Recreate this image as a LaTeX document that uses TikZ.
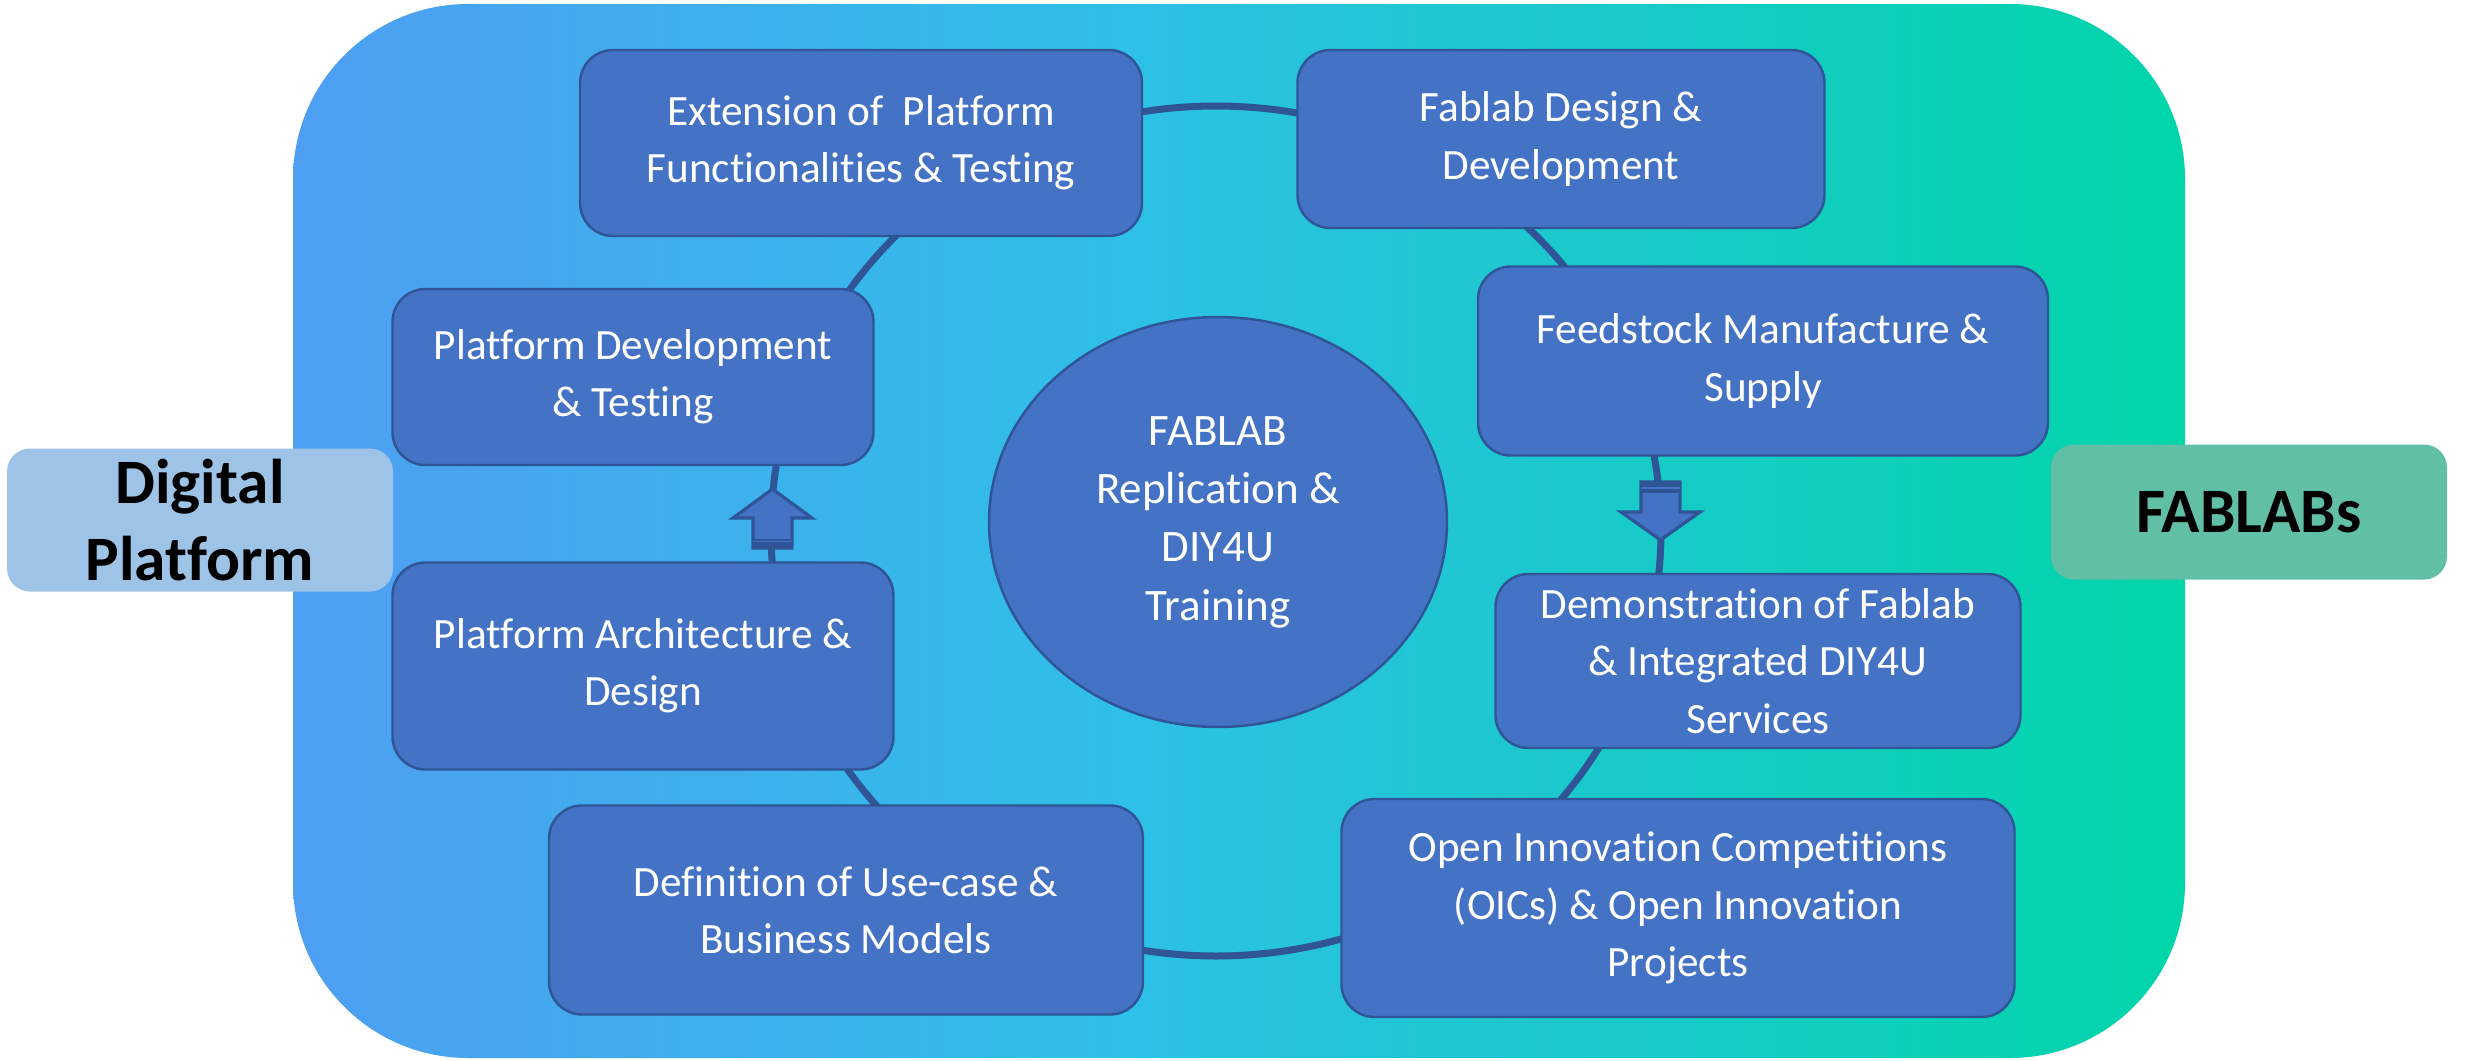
\documentclass[tikz,border=0pt]{standalone}
\usepackage{fontspec}
\setmainfont{Carlito}[Ligatures=NoCommon]
\usetikzlibrary{shapes.geometric}
\definecolor{bgleft}{HTML}{4E9EF2}
\definecolor{bgmid}{HTML}{2EC0E6}
\definecolor{bgright}{HTML}{00D5A9}
\definecolor{boxblue}{HTML}{4472C4}
\definecolor{edgeblue}{HTML}{2F5597}
\definecolor{platblue}{HTML}{9DC3E6}
\definecolor{labgreen}{HTML}{60BFA4}
\pgfdeclarehorizontalshading{bgfade}{100bp}{color(0bp)=(bgleft); color(25bp)=(bgleft);
  color(47bp)=(bgmid); color(75bp)=(bgright); color(100bp)=(bgright)}

\begin{document}
\begin{tikzpicture}[x=0.1mm,y=-0.1mm,
  stage/.style={rounded corners=3.3mm,draw=edgeblue,line width=0.7pt,fill=boxblue,
    text=white,align=center,font=\fontsize{12.3}{16.3}\selectfont,inner sep=0pt},
  hub/.style={ellipse,draw=edgeblue,line width=0.7pt,fill=boxblue,text=white,
    align=center,font=\fontsize{12.8}{16.6}\selectfont,inner sep=0pt,
    minimum width=45.8mm,minimum height=41mm},
  side/.style={rounded corners=2.3mm,align=center,inner sep=0pt,
    font=\fontsize{18}{21.9}\selectfont\bfseries},
  ring/.style={draw=edgeblue,line width=0.7mm},
  blk/.style={draw=edgeblue,line width=0.9pt,fill=boxblue,line join=miter}]

  \useasboundingbox (0,0) rectangle (2465,1061);
  \shade[shading=bgfade,rounded corners=17.5mm] (293,4) rectangle (2185,1058);

  % cycle behind the stages
  \draw[ring] (1216,531) ellipse [x radius=445,y radius=425];

  \node[stage,minimum width=56.2mm,minimum height=18.6mm] (ext) at (861,143)
    {Extension of~ Platform\\Functionalities \& Testing};
  \node[stage,minimum width=52.7mm,minimum height=17.8mm] (fdd) at (1561,139)
    {Fablab Design \&\\Development};
  \node[stage,minimum width=48.1mm,minimum height=17.6mm] (pdev) at (633,377)
    {Platform Development\\\& Testing};
  \node[stage,minimum width=57mm,minimum height=18.9mm] (feed) at (1763,361)
    {Feedstock Manufacture \&\\Supply};
  \node[stage,minimum width=50.1mm,minimum height=20.7mm] (parch) at (643,666)
    {Platform Architecture \&\\Design};
  \node[stage,minimum width=52.5mm,minimum height=17.4mm] (demo) at (1758,661)
    {Demonstration of Fablab\\\& Integrated DIY4U\\Services};
  \node[stage,minimum width=59.4mm,minimum height=20.9mm] (def) at (846,910)
    {Definition of Use-case \&\\Business Models};
  \node[stage,minimum width=67.3mm,minimum height=21.8mm] (oic) at (1678,908)
    {Open Innovation Competitions\\(OICs) \& Open Innovation\\Projects};

  \node[hub] (hub) at (1218,522) {FABLAB\\Replication \&\\DIY4U\\Training};

  \node[side,fill=platblue,minimum width=38.6mm,minimum height=14.3mm] (plat) at (200,520)
    {Digital\\Platform};
  \node[side,fill=labgreen,minimum width=39.6mm,minimum height=13.5mm] (labs) at (2249,512)
    {FABLABs};

  % block arrows
  \coordinate (uptail) at (772.5,548);
  \draw[blk] (uptail) ++(-19.5,0) -- ++(0,-30) -- ++(-20,0) -- ++(39.5,-29)
    -- ++(39.5,29) -- ++(-20,0) -- ++(0,30) -- cycle;
  \fill[edgeblue] (uptail) ++(-19.5,-9) rectangle ++(39,9);
  \draw[boxblue,line width=0.5pt] (uptail) ++(-19.5,-6.5) -- ++(39,0);

  \coordinate (downtail) at (1660.5,482);
  \draw[blk] (downtail) ++(-19.5,0) -- ++(0,30) -- ++(-20,0) -- ++(39.5,28)
    -- ++(39.5,-28) -- ++(-20,0) -- ++(0,-30) -- cycle;
  \fill[edgeblue] (downtail) ++(-19.5,0) rectangle ++(39,11);
  \draw[boxblue,line width=0.5pt] (downtail) ++(-19.5,6) -- ++(39,0);
\end{tikzpicture}
\end{document}
